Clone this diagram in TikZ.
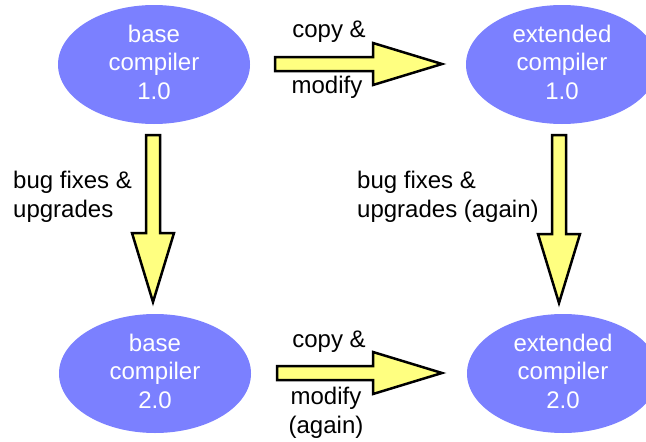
\documentclass[tikz,border=0pt]{standalone}
\usepackage{fontspec}
\setmainfont{Liberation Sans}
\usetikzlibrary{shapes.geometric,calc}

\definecolor{compilerblue}{RGB}{123,128,255}
\definecolor{arrowyellow}{RGB}{255,255,128}

% Broad block arrow from #1 to #2; #3 names the point where the head begins
\newcommand\blockarrow[3]{%
  \coordinate (#3) at ($(#2)!69pt!(#1)$);
  \draw[blockarrow]
    ($(#1)!7pt!90:(#2)$) -- ($(#3)!7pt!90:(#2)$) -- ($(#3)!21pt!90:(#2)$)
    -- (#2)
    -- ($(#3)!21pt!-90:(#2)$) -- ($(#3)!7pt!-90:(#2)$) -- ($(#1)!7pt!-90:(#2)$)
    -- cycle;}

\tikzset{
  compiler/.style={ellipse, fill=compilerblue, inner sep=0pt,
    minimum width=192pt, minimum height=119pt},
  comptext/.style={text=white, inner sep=0pt, align=center,
    font=\fontsize{24}{28.5}\selectfont},
  blockarrow/.style={draw=black, fill=arrowyellow, line width=2.5pt,
    line join=miter},
  lbl/.style={inner sep=0pt, font=\fontsize{24}{29}\selectfont},
}

\begin{document}
\begin{tikzpicture}[x=1pt, y=-1pt]
  \useasboundingbox (0,0) rectangle (646,442);

  % compilers
  \node[compiler] (base1) at (154,64.5)  {};
  \node[compiler] (ext1)  at (562,64.5)  {};
  \node[compiler] (base2) at (155,373.5) {};
  \node[compiler] (ext2)  at (563,373.5) {};
  \node[comptext] at ([yshift=2.5pt]base1.center) {base\\compiler\\1.0};
  \node[comptext] at ([yshift=2.5pt]ext1.center)  {extended\\compiler\\1.0};
  \node[comptext] at ([yshift=2.5pt]base2.center) {base\\compiler\\2.0};
  \node[comptext] at ([yshift=2.5pt]ext2.center)  {extended\\compiler\\2.0};

  % arrow end points
  \coordinate (cm1s) at (275,64);  \coordinate (cm1e) at (442,64);
  \coordinate (cm2s) at (277,373); \coordinate (cm2e) at (442,373);
  \coordinate (bf1s) at (153,135); \coordinate (bf1e) at (153,302);
  \coordinate (bf2s) at (559,135); \coordinate (bf2e) at (559,303);

  \blockarrow{cm1s}{cm1e}{cm1h}
  \blockarrow{cm2s}{cm2e}{cm2h}
  \blockarrow{bf1s}{bf1e}{bf1h}
  \blockarrow{bf2s}{bf2e}{bf2h}

  % labels
  \node[lbl, anchor=base] (copyA)   at (329,37)  {copy \&};
  \node[lbl, anchor=base] (modA)    at (327,93)  {modify};
  \node[lbl, anchor=base] (copyB)   at (329,347) {copy \&};
  \node[lbl, anchor=base] (modB)    at (326,404) {modify};
  \node[lbl, anchor=base] (againB)  at (326,433) {(again)};

  \node[lbl, anchor=base west] (bugL)  at (13,188)  {bug fixes \&};
  \node[lbl, anchor=base west] (upgL)  at (13,217)  {upgrades};
  \node[lbl, anchor=base west] (bugR)  at (357,188) {bug fixes \&};
  \node[lbl, anchor=base west] (upgR)  at (357,217) {upgrades (again)};
\end{tikzpicture}
\end{document}
